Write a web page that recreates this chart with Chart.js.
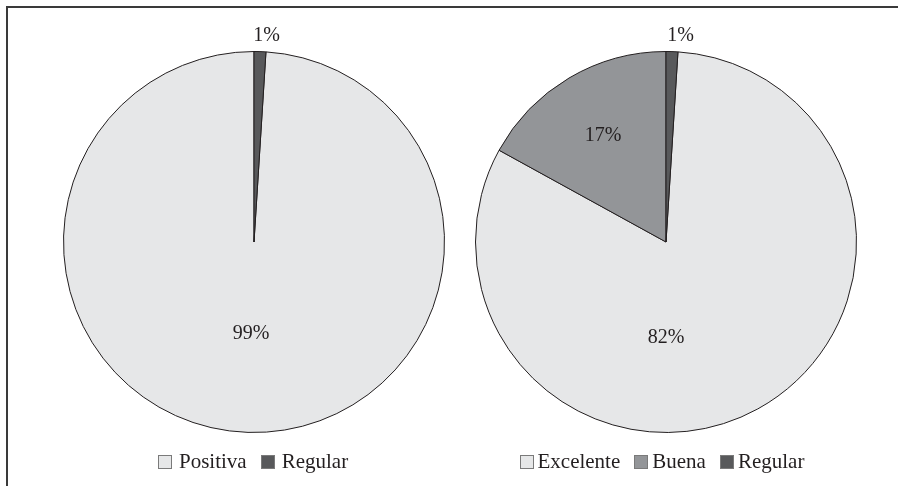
<!DOCTYPE html>
<html>
<head>
<meta charset="utf-8">
<script src="https://cdn.jsdelivr.net/npm/chart.js@4.4.1/dist/chart.umd.min.js"></script>
<style>
  html, body { margin: 0; padding: 0; background: #ffffff; }
  body { width: 902px; height: 486px; position: relative; overflow: hidden; font-family: "Liberation Serif", "Times New Roman", serif; }
  .frame { position: absolute; left: 6px; top: 6px; width: 892px; height: 486px; border-top: 2px solid #3a3a3a; border-left: 2px solid #3a3a3a; box-sizing: border-box; }
  .pie { position: absolute; top: 22px; width: 440px; height: 440px; }
  .legend { position: absolute; top: 449px; display: flex; align-items: center; font-size: 21px; color: #231f20; white-space: nowrap; }
  .legend .item { display: flex; align-items: center; }
  .legend .box { width: 14px; height: 14px; border: 1px solid #7a7a7a; box-sizing: border-box; }
</style>
</head>
<body>
<div class="frame"></div>
<div class="pie" style="left:34px"><canvas id="c1" width="440" height="440"></canvas></div>
<div class="pie" style="left:446px"><canvas id="c2" width="440" height="440"></canvas></div>
<div class="legend" id="lg1"></div>
<div class="legend" id="lg2"></div>
<script>
// Opinión general
const categoriasA = ['Positiva', 'Regular'];
const valoresA = [99, 1];
// Valoración detallada
const categoriasB = ['Excelente', 'Buena', 'Regular'];
const valoresB = [82, 17, 1];

const colores = { Positiva: '#e6e7e8', Excelente: '#e6e7e8', Buena: '#939598', Regular: '#58595b' };
const FONT = '"Liberation Serif", "Times New Roman", serif';

// Percentage labels: slices of 1% go outside the rim, the rest sit inside
// at a fraction of the radius (optionally at a fixed angle in degrees).
const etiquetas = {
  id: 'etiquetas',
  afterDatasetsDraw(chart, args, opts) {
    const ctx = chart.ctx;
    const meta = chart.getDatasetMeta(0);
    const data = chart.data.datasets[0].data;
    const total = data.reduce((a, b) => a + b, 0);
    ctx.save();
    ctx.font = '20px ' + FONT;
    ctx.fillStyle = '#231f20';
    ctx.textAlign = 'center';
    ctx.textBaseline = 'middle';
    meta.data.forEach((arc, i) => {
      const p = arc.getProps(['x', 'y', 'startAngle', 'endAngle', 'outerRadius'], true);
      const pct = Math.round(data[i] / total * 100);
      const place = (opts.place && opts.place[i]) || {};
      let ang = (p.startAngle + p.endAngle) / 2;
      if (place.angle !== undefined) ang = place.angle * Math.PI / 180 - Math.PI / 2;
      const d = place.outside ? p.outerRadius + place.outside : p.outerRadius * (place.r || 0.5);
      ctx.fillText(pct + '%', p.x + Math.cos(ang) * d + (place.dx || 0), p.y + Math.sin(ang) * d);
    });
    ctx.restore();
  }
};

function pastel(id, cats, vals, place) {
  return new Chart(document.getElementById(id), {
    type: 'pie',
    data: {
      labels: cats,
      datasets: [{
        data: vals,
        backgroundColor: cats.map(c => colores[c]),
        borderColor: '#231f20',
        borderWidth: 1,
        borderAlign: 'center'
      }]
    },
    options: {
      responsive: false,
      animation: false,
      rotation: 3.6,
      layout: { padding: 29 },
      plugins: {
        legend: { display: false },
        tooltip: { enabled: false },
        etiquetas: { place: place }
      }
    },
    plugins: [etiquetas]
  });
}

pastel('c1', categoriasA, valoresA, [{ r: 0.48 }, { outside: 16, dx: 6 }]);
pastel('c2', categoriasB, valoresB, [{ r: 0.5, angle: 180 }, { r: 0.65 }, { outside: 16, dx: 8 }]);

function leyenda(id, cats, centro, gapTexto) {
  const el = document.getElementById(id);
  cats.forEach((c, i) => {
    const it = document.createElement('div');
    it.className = 'item';
    if (i > 0) it.style.marginLeft = '14px';
    const b = document.createElement('div');
    b.className = 'box';
    b.style.background = colores[c];
    const t = document.createElement('span');
    t.textContent = c;
    t.style.marginLeft = gapTexto + 'px';
    it.appendChild(b);
    it.appendChild(t);
    el.appendChild(it);
  });
  el.style.left = (centro - el.offsetWidth / 2) + 'px';
}
leyenda('lg1', categoriasA, 253, 7);
leyenda('lg2', categoriasB, 662, 4);
</script>
</body>
</html>
